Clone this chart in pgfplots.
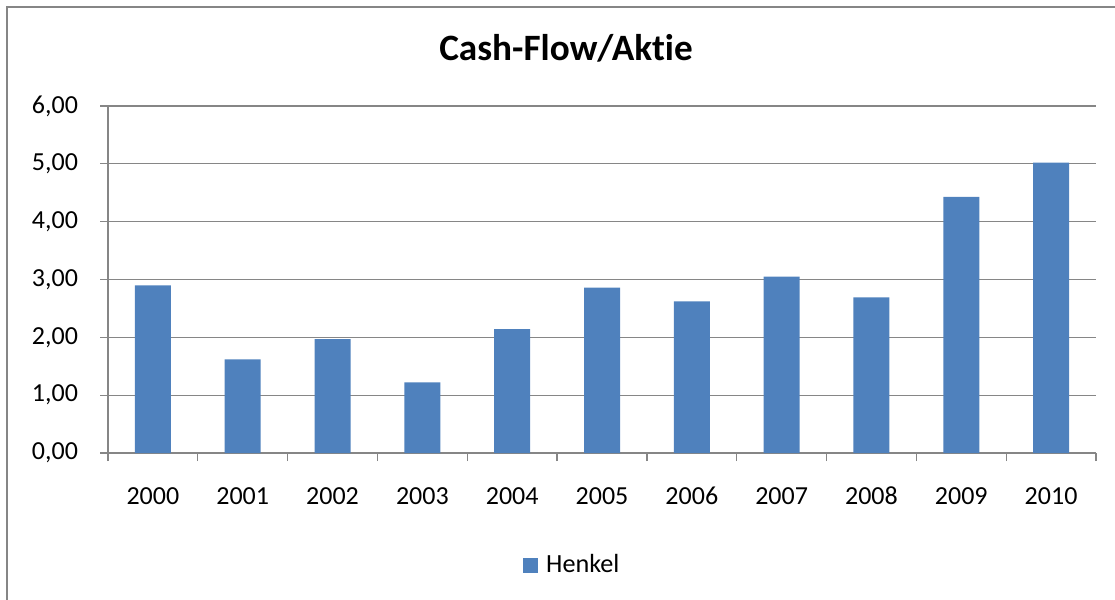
\documentclass[border=0pt]{standalone}
\usepackage{fontspec}
\setmainfont{Carlito}[Ligatures=NoCommon]
\usepackage{pgfplots}
\pgfplotsset{compat=1.18}
\definecolor{barblue}{HTML}{4F81BD}
\definecolor{gridgray}{HTML}{868686}
\begin{document}
\begin{tikzpicture}[x=1pt,y=1pt]
\useasboundingbox (0,0) rectangle (557.5,300);
\draw[gridgray, line width=1pt] (3.5,0) -- (3.5,296.5) -- (557.5,296.5);
\begin{axis}[
  at={(54pt,73.5pt)}, anchor=south west,
  scale only axis, width=494pt, height=173.5pt,
  xmin=-0.5, xmax=10.5, ymin=0, ymax=6,
  axis lines=left,
  axis line style={-, gridgray, line width=0.6pt},
  ytick={0,1,...,6},
  ymajorgrids,
  grid style={gridgray, line width=0.6pt},
  tick style={gridgray, line width=0.6pt},
  major tick length=4pt,
  tick align=outside,
  xtick={-0.5,0.5,...,10.5},
  xticklabels={},
  extra x ticks={0,1,2,3,4,5,6,7,8,9,10},
  extra x tick labels={2000,2001,2002,2003,2004,2005,2006,2007,2008,2009,2010},
  extra x tick style={major tick length=0pt, grid=none,
     xticklabel style={anchor=center, yshift=-21.5pt}},
  /pgf/number format/assume math mode=true,
  tick label style={font=\fontsize{13}{15.6}\selectfont, text=black},
  yticklabel style={xshift=-7.5pt, /pgf/number format/.cd, fixed, fixed zerofill, precision=2, use comma},
  title={Cash-Flow/Aktie},
  title style={at={(axis description cs:0.4636,1)}, anchor=center, yshift=23pt,
     font=\fontsize{18.6}{22}\selectfont\bfseries},
  legend style={at={(axis description cs:0.471,-0.3228)}, anchor=center,
     draw=none, fill=none, font=\fontsize{13.1}{15.6}\selectfont},
  legend image code/.code={\fill[barblue] (0pt,-3.75pt) rectangle (7.5pt,3.75pt); \path (9.5pt,0pt);},
]
\addplot[ybar, bar width=18pt, fill=barblue, draw=none] coordinates {
  (0,2.90) (1,1.62) (2,1.97) (3,1.22) (4,2.14) (5,2.86)
  (6,2.62) (7,3.05) (8,2.69) (9,4.43) (10,5.02)
};
\addlegendentry{Henkel}
\end{axis}
\end{tikzpicture}
\end{document}
